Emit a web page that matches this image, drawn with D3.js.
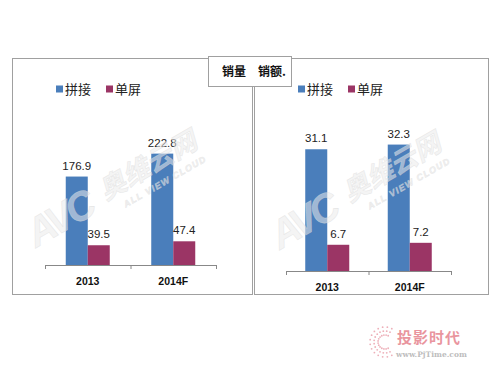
<!DOCTYPE html>
<html>
<head>
<meta charset="utf-8">
<script src="https://cdn.jsdelivr.net/npm/d3@7"></script>
<style>
  body { margin: 0; background: #fff; }
  svg { display: block; font-family: "Liberation Sans", Arial, sans-serif; }
  .cjk { font-family: "Noto Sans CJK SC", sans-serif; }
</style>
</head>
<body>
<div id="chart"></div>
<script>
// data
var years = ['2013', '2014F'];
var series = ['拼接', '单屏'];
var volume_splice = [176.9, 222.8];   // 销量
var volume_single = [39.5, 47.4];
var sales_splice = [31.1, 32.3];      // 销额
var sales_single = [6.7, 7.2];
var colors = ['#4a7ebb', '#9b3565'];

var svg = d3.select('#chart').append('svg')
    .attr('width', 500)
    .attr('height', 375);

svg.append('rect').attr('width', 500).attr('height', 375).attr('fill', '#fff');

function make_panel(opts){
  var g = svg.append('g');

  // frame
  g.append('rect')
    .attr('x', opts.box[0] + 0.5).attr('y', opts.box[1] + 0.5)
    .attr('width', opts.box[2]).attr('height', opts.box[3])
    .attr('fill', 'none').attr('stroke', '#a0a0a0');

  var x = d3.scaleBand().domain(years).range(opts.xr);
  var inner = d3.scaleBand().domain(series).range([0, 44]);
  var y = d3.scaleLinear().domain(opts.domain).range(opts.yr);

  var rows = years.map(function(yr, i){
    return {year: yr, vals: [opts.a[i], opts.b[i]]};
  });

  var grp = g.selectAll('.grp').data(rows).enter().append('g')
    .attr('transform', function(d){ return 'translate(' + (x(d.year) + x.bandwidth() / 2 - 22) + ',0)'; });

  var cells = grp.selectAll('g').data(function(d){
      return d.vals.map(function(v, j){ return {name: series[j], v: v, j: j}; });
    }).enter().append('g');

  cells.append('rect')
    .attr('x', function(d){ return inner(d.name); })
    .attr('width', inner.bandwidth())
    .attr('y', function(d){ return y(d.v); })
    .attr('height', function(d){ return y(0) - y(d.v); })
    .attr('fill', function(d){ return colors[d.j]; });

  cells.append('text')
    .attr('x', function(d){ return inner(d.name) + inner.bandwidth() / 2; })
    .attr('y', function(d){ return y(d.v) - 7; })
    .attr('text-anchor', 'middle')
    .attr('font-size', 11.5)
    .attr('fill', '#222')
    .text(function(d){ return d.v; });

  // watermark sits over the bars, very faint
  var wm = g.append('g')
    .attr('transform', 'translate(' + opts.wm[0] + ',' + opts.wm[1] + ') rotate(-30)')
    .attr('fill', '#ffffff').attr('fill-opacity', 0.3)
    .attr('stroke', '#d8d8d8').attr('stroke-opacity', 0.5).attr('stroke-width', 0.6);
  wm.append('text').attr('x', 0).attr('y', 0)
    .attr('font-size', 40).attr('font-weight', 'bold').attr('font-style', 'italic')
    .attr('letter-spacing', -4)
    .text('AVC');
  wm.append('text').attr('class', 'cjk').attr('x', 84).attr('y', -6)
    .attr('font-size', 27).attr('font-weight', 'bold').attr('font-style', 'italic')
    .text('奥维云网');
  wm.append('text').attr('x', 98).attr('y', 10)
    .attr('font-size', 9).attr('font-weight', 'bold').attr('font-style', 'italic')
    .attr('letter-spacing', 1.2)
    .text('ALL VIEW CLOUD');
  wm.selectAll('text').attr('fill', '#ececec').attr('fill-opacity', 0.55);

  // category axis, ticks between the groups like excel
  var ax = g.append('g').attr('transform', 'translate(0,' + y(0) + ')');
  ax.call(d3.axisBottom(x).tickSize(0).tickPadding(opts.labelPad));
  ax.select('.domain').attr('stroke', '#888');
  ax.selectAll('.tick text')
    .attr('font-family', '"Liberation Sans", Arial, sans-serif')
    .attr('font-size', 10.5).attr('font-weight', 'bold').attr('fill', '#111');
  var bounds = years.map(function(yr){ return x(yr); }).concat([opts.xr[1]]);
  ax.selectAll('.bound').data(bounds).enter().append('line')
    .attr('x1', function(d){ return d + 0.5; }).attr('x2', function(d){ return d + 0.5; })
    .attr('y1', 0).attr('y2', 4)
    .attr('stroke', '#888');

  // legend
  var lg = g.append('g').attr('transform', 'translate(' + opts.legend[0] + ',' + opts.legend[1] + ')');
  var items = lg.selectAll('g').data(series).enter().append('g')
    .attr('transform', function(d, i){ return 'translate(' + (i * 50) + ',0)'; });
  items.append('rect').attr('x', 0).attr('y', -3.5).attr('width', 7).attr('height', 7)
    .attr('fill', function(d, i){ return colors[i]; });
  items.append('text').attr('class', 'cjk')
    .attr('x', 9).attr('y', 5)
    .attr('font-size', 13).attr('fill', '#222')
    .text(function(d){ return d; });
}

make_panel({
  box: [12, 58, 240, 236],
  xr: [45, 216], yr: [265, 140], domain: [0, 250],
  a: volume_splice, b: volume_single,
  legend: [56, 89], labelPad: 13, wm: [36, 248]
});

make_panel({
  box: [254, 58, 234, 236],
  xr: [286, 451], yr: [271, 134], domain: [0, 35],
  a: sales_splice, b: sales_single,
  legend: [298, 89], labelPad: 13, wm: [280, 250]
});

// title box across both panels
svg.append('rect')
  .attr('x', 208.5).attr('y', 56.5).attr('width', 83).attr('height', 30)
  .attr('fill', '#fff').attr('stroke', '#a0a0a0');
svg.append('text').attr('class', 'cjk')
  .attr('x', 222).attr('y', 76)
  .attr('font-size', 12).attr('font-weight', 'bold').attr('fill', '#111')
  .text('销量\u2003销额.');

// pjtime logo, bottom right
var logo = svg.append('g').attr('opacity', 0.55);
d3.range(0, 14).forEach(function(i){
  var a = Math.PI * (0.35 + i * 0.1);
  d3.range(0, 3).forEach(function(k){
    logo.append('circle')
      .attr('cx', 385 + Math.cos(a) * (15 - k * 4))
      .attr('cy', 342 - Math.sin(a) * (15 - k * 4))
      .attr('r', 0.9).attr('fill', '#e07080');
  });
});
logo.append('text').attr('class', 'cjk')
  .attr('x', 397).attr('y', 343)
  .attr('font-size', 15).attr('font-weight', 'bold').attr('fill', '#d84050')
  .attr('letter-spacing', 1)
  .text('投影时代');
logo.append('text')
  .attr('x', 396).attr('y', 357)
  .attr('font-family', '"DejaVu Serif", serif')
  .attr('font-size', 7.5).attr('font-weight', 'bold').attr('fill', '#888')
  .text('www.PjTime.com');
</script>
</body>
</html>
